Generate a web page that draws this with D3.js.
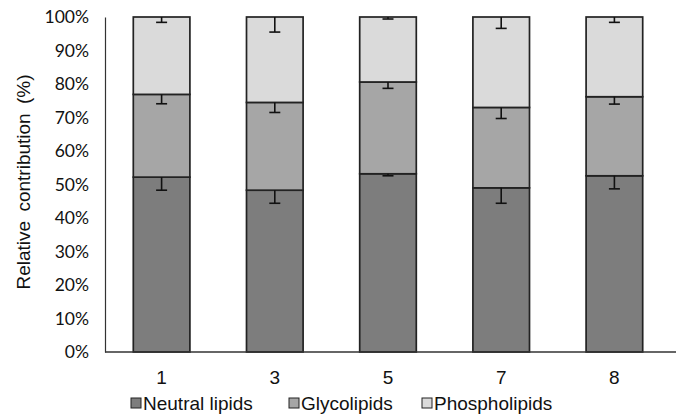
<!DOCTYPE html>
<meta charset="utf-8">
<style>
body { margin: 0; background: #fff; }
.ytick { font: 17.5px Lato, sans-serif; fill: #111; }
.xtick { font: 19px "Liberation Sans", Arial, sans-serif; fill: #111; }
.ytitle { font: 19px "Liberation Sans", Arial, sans-serif; fill: #111; word-spacing: 4px; }
.legend { font: 19px "Liberation Sans", Arial, sans-serif; fill: #111; }
</style>
<svg width="680" height="414"></svg>
<script src="https://d3js.org/d3.v7.min.js"></script>
<script>

// sample numbers on the x axis
var categories = ["1", "3", "5", "7", "8"];

// percentages of each lipid class (stacked to 100%)
var neutral = [52.2, 48.3, 53.2, 49.0, 52.6];
var glyco = [24.7, 26.2, 27.4, 24.0, 23.6];
var phospho = [23.1, 25.5, 19.4, 27.0, 23.8];

// error bars, drawn downward from the top of each segment
var neutralErr = [3.9, 3.9, 0.6, 4.6, 3.9];
var glycoErr = [2.8, 3.0, 1.9, 3.3, 2.2];
var phosphoErr = [1.6, 4.5, 0.6, 3.4, 1.6];

var seriesNames = ["Neutral lipids", "Glycolipids", "Phospholipids"];
var yTicks = [0, 10, 20, 30, 40, 50, 60, 70, 80, 90, 100];

var colors = ["#7d7d7d", "#a6a6a6", "#dadada"];

var svg = d3.select("svg");

var x = d3.scaleBand()
    .domain(categories)
    .range([105, 671])
    .paddingInner(0.5)
    .paddingOuter(0.25);

var y = d3.scaleLinear()
    .domain([0, 100])
    .range([352, 17]);

// build a table for d3.stack
var table = categories.map(function(c, i) {
  return {cat: c, n: neutral[i], g: glyco[i], p: phospho[i],
          en: neutralErr[i], eg: glycoErr[i], ep: phosphoErr[i]};
});
var keys = ["n", "g", "p"];
var errKeys = {n: "en", g: "eg", p: "ep"};
var stacked = d3.stack().keys(keys)(table);

var layers = svg.selectAll("g.layer")
  .data(stacked)
  .enter().append("g")
    .attr("class", "layer")
    .attr("fill", function(d, i) { return colors[i]; });

layers.selectAll("rect")
  .data(function(d) { return d; })
  .enter().append("rect")
    .attr("x", function(d) { return x(d.data.cat); })
    .attr("y", function(d) { return y(d[1]); })
    .attr("width", x.bandwidth())
    .attr("height", function(d) { return y(d[0]) - y(d[1]); })
    .attr("stroke", "#222")
    .attr("stroke-width", 1.7);

// error bars
stacked.forEach(function(layer) {
  var ek = errKeys[layer.key];
  var eb = svg.append("g").attr("stroke", "#111").attr("stroke-width", 1.6);
  layer.forEach(function(d) {
    var cx = x(d.data.cat) + x.bandwidth() / 2;
    var top = Math.min(d[1], 100);
    var low = top - d.data[ek];
    eb.append("line")
      .attr("x1", cx).attr("x2", cx)
      .attr("y1", y(top)).attr("y2", y(low));
    eb.append("line")
      .attr("x1", cx - 5.5).attr("x2", cx + 5.5)
      .attr("y1", y(low)).attr("y2", y(low));
  });
});

// y axis
var yAxis = svg.append("g")
    .attr("transform", "translate(105,0)")
    .call(d3.axisLeft(y).tickValues(yTicks).tickSize(0).tickPadding(16)
      .tickFormat(function(d) { return d + "%"; }));
yAxis.select(".domain").attr("stroke", "#333").attr("stroke-width", 1.2);
yAxis.selectAll("text").attr("class", "ytick").attr("font-family", null).attr("font-size", null);

// x axis
var xAxis = svg.append("g")
    .attr("transform", "translate(0,352)")
    .call(d3.axisBottom(x).tickSize(0).tickPadding(19));
xAxis.select(".domain").attr("d", "M105,0H676").attr("stroke", "#333").attr("stroke-width", 1.5);
xAxis.selectAll("text").attr("class", "xtick").attr("font-family", null).attr("font-size", null);

// y title
svg.append("text")
    .attr("class", "ytitle")
    .attr("transform", "translate(30,182) rotate(-90)")
    .attr("text-anchor", "middle")
    .text("Relative contribution (%)");

// legend
var legendX = [131, 289, 422];
var legend = svg.selectAll("g.leg")
  .data(seriesNames)
  .enter().append("g")
    .attr("class", "leg")
    .attr("transform", function(d, i) { return "translate(" + legendX[i] + ",398)"; });
legend.append("rect")
    .attr("width", 10)
    .attr("height", 10)
    .attr("fill", function(d, i) { return colors[i]; })
    .attr("stroke", "#222")
    .attr("stroke-width", 1);
legend.append("text")
    .attr("class", "legend")
    .attr("x", 12)
    .attr("y", 12)
    .text(function(d) { return d; });

</script>
